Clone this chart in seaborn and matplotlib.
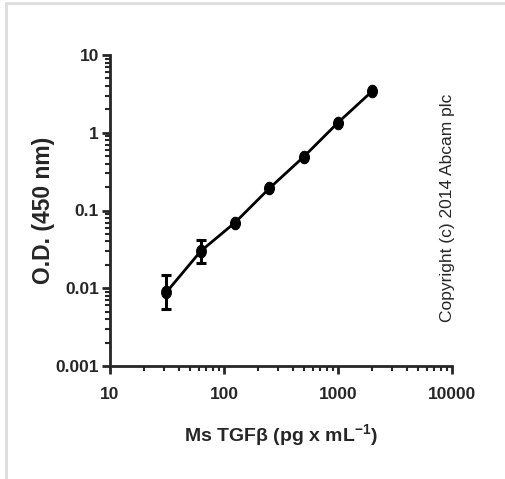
import matplotlib
matplotlib.use("Agg")
import matplotlib.pyplot as plt
import matplotlib.ticker as mticker
from matplotlib.path import Path
import numpy as np
import pandas as pd
import seaborn as sns

# standard curve values
conc = [31.25, 62.5, 125, 250, 500, 1000, 2000]
od = [0.0089, 0.030, 0.070, 0.193, 0.49, 1.35, 3.44]
od_low = [0.0054, 0.0213, 0.070, 0.193, 0.49, 1.35, 3.44]
od_high = [0.0148, 0.0417, 0.070, 0.193, 0.49, 1.35, 3.44]

x_ticks = [10, 100, 1000, 10000]
x_labels = ["10", "100", "1000", "10000"]
y_ticks = [0.001, 0.01, 0.1, 1, 10]
y_labels = ["0.001", "0.01", "0.1", "1", "10"]

sns.set_style("ticks")
plt.rcParams["font.family"] = ["Liberation Sans", "DejaVu Sans"]
plt.rcParams["mathtext.fontset"] = "custom"
plt.rcParams["mathtext.rm"] = "Liberation Sans:bold"
plt.rcParams["mathtext.bf"] = "Liberation Sans:bold"

df = pd.DataFrame({"conc": conc, "od": od})

# slightly tall oval marker, like the stretched original
t = np.linspace(0, 2 * np.pi, 40)
oval = Path(np.column_stack([0.78 * np.cos(t), np.sin(t)]), closed=True)

fig = plt.figure(figsize=(5.06, 4.79), dpi=100)
ax = fig.add_axes([110 / 506, 1 - 366 / 479, 342 / 506, 311 / 479])

sns.lineplot(data=df, x="conc", y="od", ax=ax, color="black", linewidth=2,
             marker=oval, markersize=9, markeredgecolor="black")
yerr = [np.array(od) - np.array(od_low), np.array(od_high) - np.array(od)]
ax.errorbar(conc, od, yerr=yerr, fmt="none", ecolor="black", elinewidth=2.2,
            capsize=3.3, capthick=2.2)

ax.set_xscale("log")
ax.set_yscale("log")
ax.set_xlim(10, 10000)
ax.set_ylim(0.001, 10)
ax.set_xticks(x_ticks)
ax.set_xticklabels(x_labels)
ax.set_yticks(y_ticks)
ax.set_yticklabels(y_labels)
ax.xaxis.set_minor_locator(mticker.LogLocator(base=10, subs=np.arange(2, 10)))
ax.yaxis.set_minor_locator(mticker.LogLocator(base=10, subs=np.arange(2, 10)))
ax.xaxis.set_minor_formatter(mticker.NullFormatter())
ax.yaxis.set_minor_formatter(mticker.NullFormatter())

for lab in ax.get_xticklabels() + ax.get_yticklabels():
    lab.set_fontweight("bold")
    lab.set_fontsize(12.5)
ax.tick_params(which="major", length=6, width=2, pad=2)
ax.tick_params(axis="x", which="major", pad=9)
ax.tick_params(which="minor", length=3.5, width=1.5)
for side in ("left", "bottom"):
    ax.spines[side].set_linewidth(2)
sns.despine(ax=ax)

ax.set_xlabel("Ms TGF\u03b2 (pg x mL$^{\\mathregular{-1}}$)",
              fontsize=14, fontweight="bold", labelpad=15)
ax.set_ylabel("O.D. (450 nm)", fontsize=16.5, fontweight="bold", labelpad=0)

fig.text(448 / 506, 1 - 208 / 479, "Copyright (c) 2014 Abcam plc",
         rotation=90, ha="center", va="center", fontsize=12.5)

# light frame on the left and top edges
fig.add_artist(plt.Line2D([6 / 506, 6 / 506], [0, 1 - 3 / 479], color="#dddddd", lw=2))
fig.add_artist(plt.Line2D([6 / 506, 1], [1 - 3 / 479, 1 - 3 / 479], color="#dddddd", lw=2))

fig.savefig("out.png", dpi=100)
